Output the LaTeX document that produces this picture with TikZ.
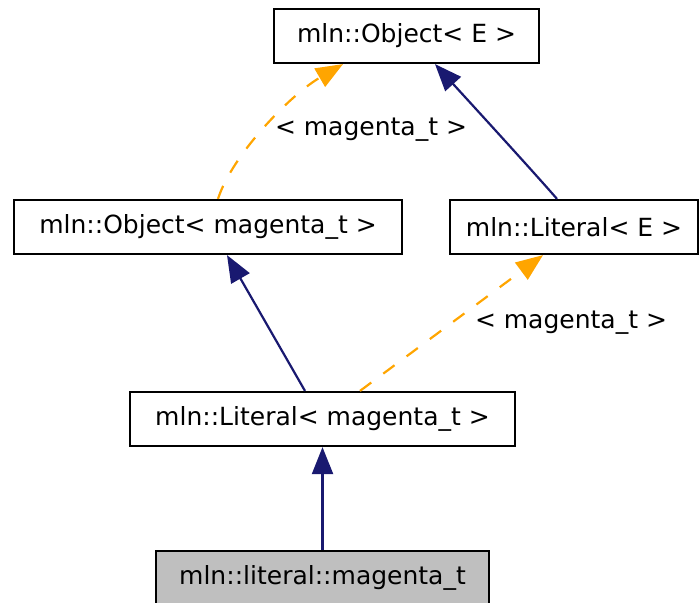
\documentclass[tikz,border=0pt]{standalone}
\usepackage{fontspec}
\setmainfont{DejaVu Sans}
\usetikzlibrary{arrows.meta,calc}
\definecolor{edgeblue}{HTML}{191970}
\definecolor{edgeorange}{HTML}{FFA500}
\definecolor{leafgray}{HTML}{BFBFBF}

\begin{document}
\begin{tikzpicture}[x=1pt,y=-1pt,
    cls/.style={draw,line width=2.2pt,minimum height=54pt,inner sep=0pt,
      font=\fontsize{25}{29}\selectfont},
    inherit/.style={edgeblue,line width=2.2pt,-{Triangle[length=27pt,width=21pt]}},
    tmpl/.style={edgeorange,line width=2.2pt,dash pattern=on 14pt off 15pt,
      -{Triangle[length=27pt,width=21pt]}},
    lbl/.style={font=\fontsize{25}{29}\selectfont}]
  \useasboundingbox (0,0) rectangle (700,602);

  % class boxes, top to bottom
  \node[cls,minimum width=265pt] (objE) at (406.5,36) {mln::Object< E >};
  \node[cls,minimum width=388pt] (objM) at (208,227) {mln::Object< magenta\_t >};
  \node[cls,minimum width=248pt] (litE) at (574,227) {mln::Literal< E >};
  \node[cls,minimum width=385pt] (litM) at (322.5,419) {mln::Literal< magenta\_t >};
  \node[cls,fill=leafgray,minimum width=333pt] (leaf) at (322.5,578) {mln::literal::magenta\_t};

  % template instances (dashed) and plain inheritance
  \draw[tmpl] ([xshift=10pt]objM.north) .. controls (232,155) and (290,95) .. ([xshift=-63.5pt]objE.south);
  \node[lbl] (lblObj) at (371,130) {< magenta\_t >};
  \draw[inherit] ([xshift=-17pt]litE.north) .. controls (530,168) and (475,108) .. ([xshift=28.5pt]objE.south);
  \draw[inherit] ([xshift=-17.5pt]litM.north) -- ([xshift=19pt]objM.south);
  \draw[tmpl] ([xshift=37.5pt]litM.north) -- ([xshift=-31pt]litE.south);
  \node[lbl] (lblLit) at (571,323) {< magenta\_t >};
  \draw[inherit] (leaf) -- (litM);
\end{tikzpicture}
\end{document}
